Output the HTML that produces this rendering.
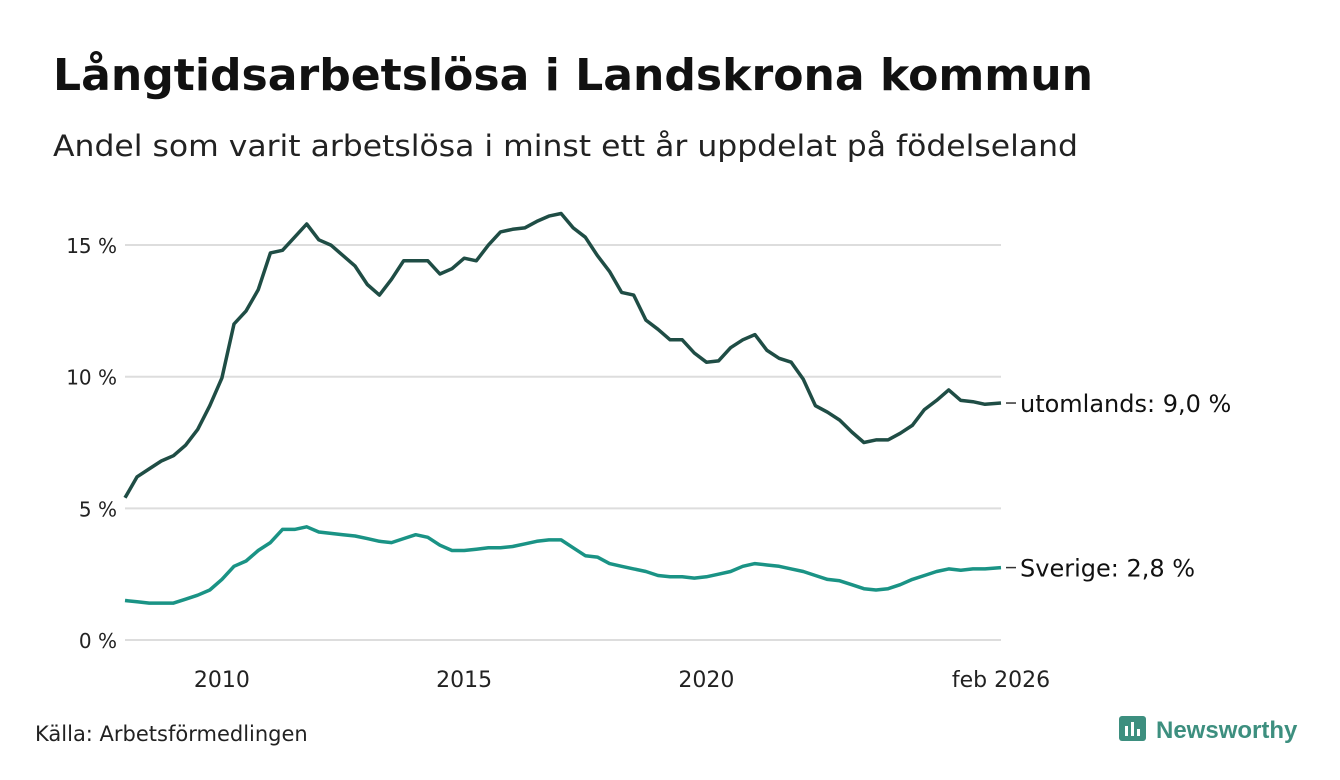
<!DOCTYPE html>
<html><head><meta charset="utf-8"><style>
body{margin:0;width:1340px;height:780px;background:#fff;font-family:"DejaVu Sans",sans-serif;overflow:hidden}
</style></head><body>
<svg width="1340" height="780" style="position:absolute;left:0;top:0" font-family="DejaVu Sans, sans-serif">
<text x="53" y="90" font-size="44" font-weight="bold" fill="#111" textLength="1040" lengthAdjust="spacingAndGlyphs">Långtidsarbetslösa i Landskrona kommun</text>
<text x="53" y="156" font-size="29" fill="#222" textLength="1025" lengthAdjust="spacingAndGlyphs">Andel som varit arbetslösa i minst ett år uppdelat på födelseland</text>
<g id="grid"></g><g id="lines"></g>
<text x="35" y="741" font-size="21" fill="#222">Källa: Arbetsförmedlingen</text>
<g>
<rect x="1119" y="716" width="27" height="25" rx="3" fill="#3d8f7f"/>
<rect x="1125" y="726" width="3" height="10" fill="#fff"/><rect x="1131" y="722" width="3" height="14" fill="#fff"/><rect x="1137" y="729" width="3" height="7" fill="#fff"/>
<text x="1156" y="738" font-size="24" font-weight="bold" fill="#3d8f7f" font-family="Liberation Sans, sans-serif">Newsworthy</text>
</g>
</svg>
<script>
const yearsStart=2008, stepQ=0.25;
const yTicks=[0,5,10,15];
const yTickLabels=["0 %","5 %","10 %","15 %"];
const xTicks=[2010,2015,2020,2026.08];
const xTickLabels=["2010","2015","2020","feb 2026"];
const utomlands=[5.4,6.2,6.5,6.8,7.0,7.4,8.0,8.9,9.95,12.0,12.5,13.3,14.7,14.8,15.3,15.8,15.2,15.0,14.6,14.2,13.5,13.1,13.7,14.4,14.4,14.4,13.9,14.1,14.5,14.4,15.0,15.5,15.6,15.65,15.9,16.1,16.2,15.65,15.3,14.6,14.0,13.2,13.1,12.15,11.8,11.4,11.4,10.9,10.55,10.6,11.1,11.4,11.6,11.0,10.7,10.55,9.9,8.9,8.65,8.35,7.9,7.5,7.6,7.6,7.85,8.15,8.75,9.1,9.5,9.1,9.05,8.95,9.0];
const sverige=[1.5,1.45,1.4,1.4,1.4,1.55,1.7,1.9,2.3,2.8,3.0,3.4,3.7,4.2,4.2,4.3,4.1,4.05,4.0,3.95,3.85,3.75,3.7,3.85,4.0,3.9,3.6,3.4,3.4,3.45,3.5,3.5,3.55,3.65,3.75,3.8,3.8,3.5,3.2,3.15,2.9,2.8,2.7,2.6,2.45,2.4,2.4,2.35,2.4,2.5,2.6,2.8,2.9,2.85,2.8,2.7,2.6,2.45,2.3,2.25,2.1,1.95,1.9,1.95,2.1,2.3,2.45,2.6,2.7,2.65,2.7,2.7,2.75];
const seriesLabels=["utomlands: 9,0 %","Sverige: 2,8 %"];
const X=t=>125+(t-2008)*(876/(2026.08-2008));
const Y=v=>640-v*26.33;
const NS="http://www.w3.org/2000/svg";
const grid=document.getElementById('grid'),lines=document.getElementById('lines');
function mk(tag,attrs,parent,txt){const e=document.createElementNS(NS,tag);for(const k in attrs)e.setAttribute(k,attrs[k]);if(txt!==undefined)e.textContent=txt;parent.appendChild(e);return e;}
yTicks.forEach((v,i)=>{
 const l=mk('line',{x1:125,x2:1001,y1:Y(v),y2:Y(v),stroke:'#ddd','stroke-width':2},grid);
 
 
 const t=mk('text',{x:117,y:Y(v)+8,'text-anchor':'end','font-size':20,fill:'#222'},grid,yTickLabels[i]);
 
 
});
xTicks.forEach((v,i)=>{
 const t=mk('text',{x:X(v),y:687,'text-anchor':'middle','font-size':22,fill:'#222'},grid,xTickLabels[i]);
 
 
});
function t(i,n){return i===n-1?2026.08:yearsStart+i*stepQ;}
[[utomlands,'#1f4d45'],[sverige,'#1a9385']].forEach(([d,c],k)=>{
 const pts=d.map((v,i)=>X(t(i,d.length)).toFixed(1)+','+Y(v).toFixed(1)).join(' ');
 const p=mk('polyline',{points:pts,fill:'none',stroke:c,'stroke-width':3.5,'stroke-linejoin':'round'},lines);
 
 
 const ly=Y(d[d.length-1]);
 const tk=mk('line',{x1:1006,x2:1016,y1:ly,y2:ly,stroke:'#333','stroke-width':1.5},lines);
 
 
 const lb=mk('text',{x:1020,y:ly+9,'font-size':24,fill:'#111'},lines,seriesLabels[k]);
 
 
});
</script>
</body></html>
